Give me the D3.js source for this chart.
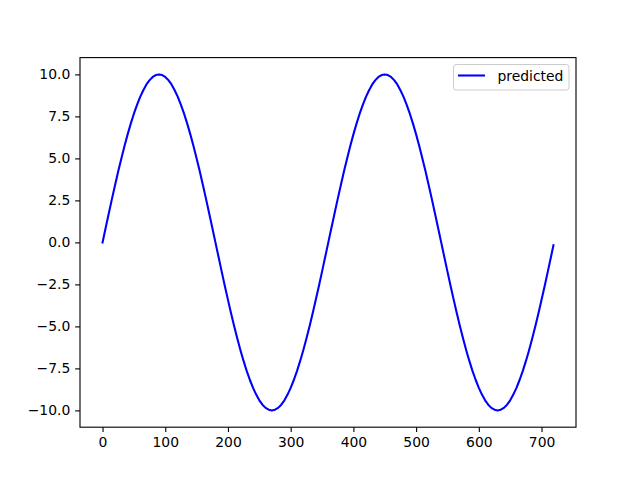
<!DOCTYPE html>
<html><head><meta charset="utf-8">
<script src="https://cdn.jsdelivr.net/npm/d3@7"></script>
<style>body{margin:0;background:#fff}svg{display:block}text{font-family:"DejaVu Sans",sans-serif}</style>
</head><body>
<script>
const xValues = [0,5,10,15,20,25,30,35,40,45,50,55,60,65,70,75,80,85,90,95,100,105,110,115,120,125,130,135,140,145,150,155,160,165,170,175,
180,185,190,195,200,205,210,215,220,225,230,235,240,245,250,255,260,265,270,275,280,285,290,295,300,305,310,315,320,325,330,335,340,345,350,355,
360,365,370,375,380,385,390,395,400,405,410,415,420,425,430,435,440,445,450,455,460,465,470,475,480,485,490,495,500,505,510,515,520,525,530,535,
540,545,550,555,560,565,570,575,580,585,590,595,600,605,610,615,620,625,630,635,640,645,650,655,660,665,670,675,680,685,690,695,700,705,710,715,719];
const predicted = [0,0.87,1.74,2.59,3.42,4.23,5.00,5.74,6.43,7.07,7.66,8.19,8.66,9.06,9.40,9.66,9.85,9.96,10,9.96,9.85,9.66,9.40,9.06,8.66,8.19,7.66,7.07,6.43,5.74,5.00,4.23,3.42,2.59,1.74,0.87,
0,-0.87,-1.74,-2.59,-3.42,-4.23,-5.00,-5.74,-6.43,-7.07,-7.66,-8.19,-8.66,-9.06,-9.40,-9.66,-9.85,-9.96,-10,-9.96,-9.85,-9.66,-9.40,-9.06,-8.66,-8.19,-7.66,-7.07,-6.43,-5.74,-5.00,-4.23,-3.42,-2.59,-1.74,-0.87,
0,0.87,1.74,2.59,3.42,4.23,5.00,5.74,6.43,7.07,7.66,8.19,8.66,9.06,9.40,9.66,9.85,9.96,10,9.96,9.85,9.66,9.40,9.06,8.66,8.19,7.66,7.07,6.43,5.74,5.00,4.23,3.42,2.59,1.74,0.87,
0,-0.87,-1.74,-2.59,-3.42,-4.23,-5.00,-5.74,-6.43,-7.07,-7.66,-8.19,-8.66,-9.06,-9.40,-9.66,-9.85,-9.96,-10,-9.96,-9.85,-9.66,-9.40,-9.06,-8.66,-8.19,-7.66,-7.07,-6.43,-5.74,-5.00,-4.23,-3.42,-2.59,-1.74,-0.87,-0.17];
const xTicks = [0,100,200,300,400,500,600,700];
const yTicks = [-10,-7.5,-5,-2.5,0,2.5,5,7.5,10];
const seriesName = "predicted";

const W=640,H=480, L=80, R=576, T=57.6, B=427.2;
const svg=d3.select("body").append("svg").attr("width",W).attr("height",H);
const x=d3.scaleLinear().domain([-35.95,754.95]).range([L,R]);
const y=d3.scaleLinear().domain([-11,11]).range([B,T]);
const fmtY=d=>d3.format(".1f")(d).replace("-","\u2212");

const gx=svg.append("g").attr("transform",`translate(0,${B})`)
  .call(d3.axisBottom(x).tickValues(xTicks).tickSize(4.86).tickPadding(4.86).tickFormat(d=>d));
const gy=svg.append("g").attr("transform",`translate(${L},0)`)
  .call(d3.axisLeft(y).tickValues(yTicks).tickSize(4.86).tickPadding(4.86).tickFormat(fmtY));
[gx,gy].forEach(g=>{
  g.select(".domain").remove();
  g.selectAll(".tick line").attr("stroke","#000").attr("stroke-width",1.11);
  g.selectAll(".tick text").attr("fill","#000").style("font-size","13.9px").style("font-family","DejaVu Sans");
});

const line=d3.line().x((d,i)=>x(xValues[i])).y(d=>y(d));
svg.append("path").datum(predicted).attr("d",line).attr("fill","none")
  .attr("stroke","#0000ff").attr("stroke-width",2.08).attr("stroke-linejoin","round").attr("stroke-linecap","square");

svg.append("rect").attr("x",L).attr("y",T).attr("width",R-L).attr("height",B-T)
  .attr("fill","none").attr("stroke","#000").attr("stroke-width",1.11);

// legend
const lg=svg.append("g");
lg.append("rect").attr("x",453.5).attr("y",64.5).attr("width",115.5).attr("height",25.5).attr("rx",2.8)
  .attr("fill","#fff").attr("fill-opacity",0.8).attr("stroke","#cccccc").attr("stroke-width",1);
lg.append("line").attr("x1",458).attr("x2",485).attr("y1",75.5).attr("y2",75.5)
  .attr("stroke","#0000ff").attr("stroke-width",2.08);
lg.append("text").attr("x",497.5).attr("y",80.5).text(seriesName).style("font-size","13.9px").attr("fill","#000");
</script>
</body></html>
